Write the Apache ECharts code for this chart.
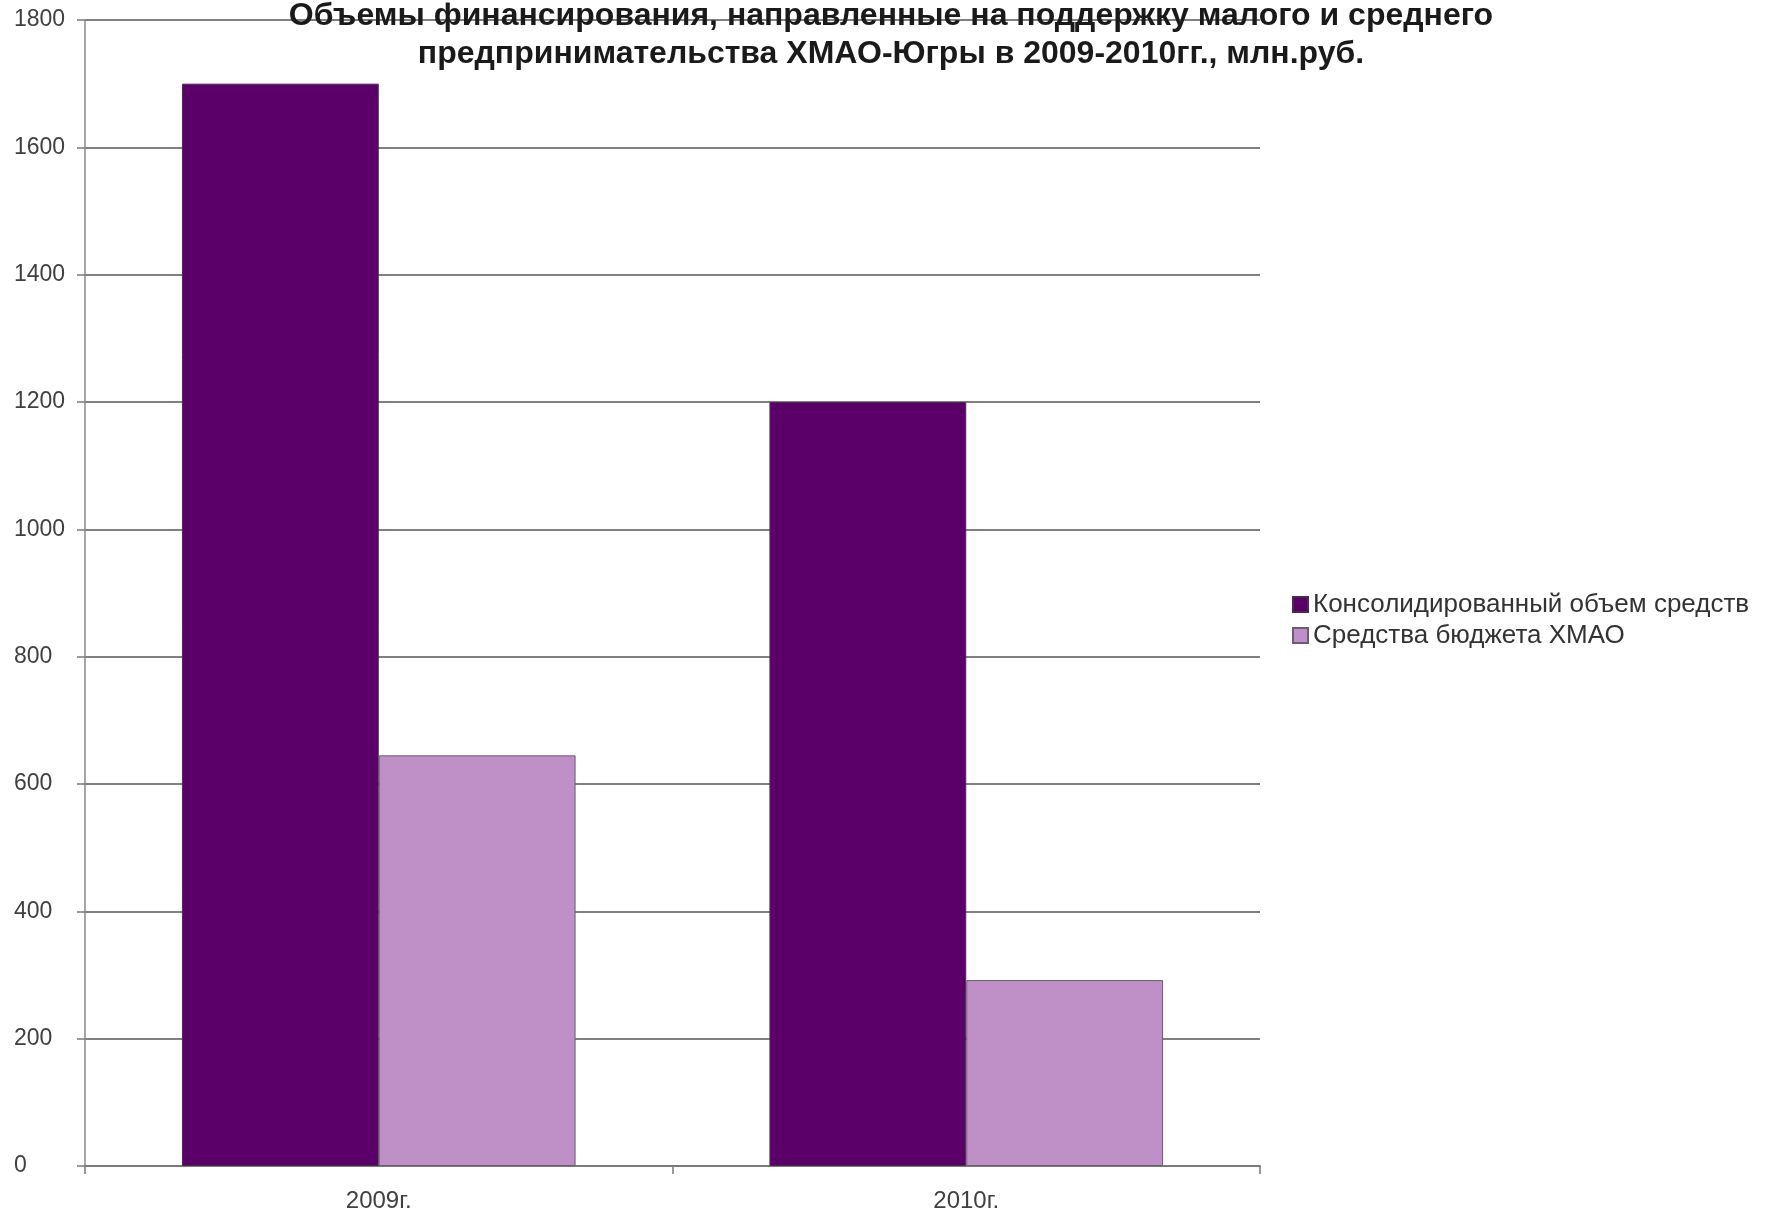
<!DOCTYPE html>
<html>
<head>
<meta charset="utf-8">
<script src="https://cdn.jsdelivr.net/npm/echarts@6/dist/echarts.min.js"></script>
<style>html,body{margin:0;padding:0;background:#fff;}#c{width:1768px;height:1217px;}</style>
</head>
<body>
<div id="c"></div>
<script>
const categories = ['2009г.', '2010г.'];
const seriesNames = ['Консолидированный объем средств', 'Средства бюджета ХМАО'];
const consolidated = [1700, 1200];
const budget = [645, 292];
const yTicks = [0, 200, 400, 600, 800, 1000, 1200, 1400, 1600, 1800];
const titleText = 'Объемы финансирования, направленные на поддержку малого и среднего\nпредпринимательства ХМАО-Югры в 2009-2010гг., млн.руб.';

const chart = echarts.init(document.getElementById('c'));
chart.setOption({
  backgroundColor: '#ffffff',
  animation: false,
  title: {
    text: titleText,
    left: 886,
    top: -8,
    textAlign: 'center',
    textStyle: { fontFamily: 'Liberation Sans, Arial', fontWeight: 'bold', fontSize: 32, lineHeight: 38, color: '#1a1a1a' }
  },
  legend: {
    orient: 'vertical',
    left: 1287,
    top: 584,
    itemWidth: 15,
    itemHeight: 15,
    itemGap: 0,
    icon: 'rect',
    textStyle: { fontFamily: 'Liberation Sans, Arial', fontSize: 26, lineHeight: 31, color: '#333' },
    data: seriesNames
  },
  grid: { left: 85, right: 508, top: 20, bottom: 51, containLabel: false },
  xAxis: {
    type: 'category',
    data: categories,
    axisLine: { lineStyle: { color: '#7a7a7a', width: 2 } },
    axisTick: { show: true, length: 8, lineStyle: { color: '#7a7a7a', width: 1.5 } },
    axisLabel: { fontFamily: 'Liberation Sans, Arial', fontSize: 24, color: '#404040', margin: 23 }
  },
  yAxis: {
    type: 'value',
    min: yTicks[0],
    max: yTicks[yTicks.length - 1],
    interval: 200,
    axisLine: { show: true, lineStyle: { color: '#8a8a8a', width: 1.5 } },
    axisTick: { show: true, length: 8, lineStyle: { color: '#7a7a7a', width: 1.5 } },
    axisLabel: {
      fontFamily: 'Liberation Sans, Arial', fontSize: 23, color: '#404040', align: 'left', margin: 71,
      formatter: function (v) { return String(v); }
    },
    splitLine: { show: true, lineStyle: { color: '#808080', width: 2 } }
  },
  series: [
    {
      name: seriesNames[0],
      type: 'bar',
      data: consolidated,
      barGap: '0%',
      barCategoryGap: '33%',
      itemStyle: { color: '#5a0068', borderColor: '#4a2a50', borderWidth: 1 }
    },
    {
      name: seriesNames[1],
      type: 'bar',
      data: budget,
      itemStyle: { color: '#bf90c8', borderColor: '#6e5a72', borderWidth: 1 }
    }
  ]
});
</script>
</body>
</html>
